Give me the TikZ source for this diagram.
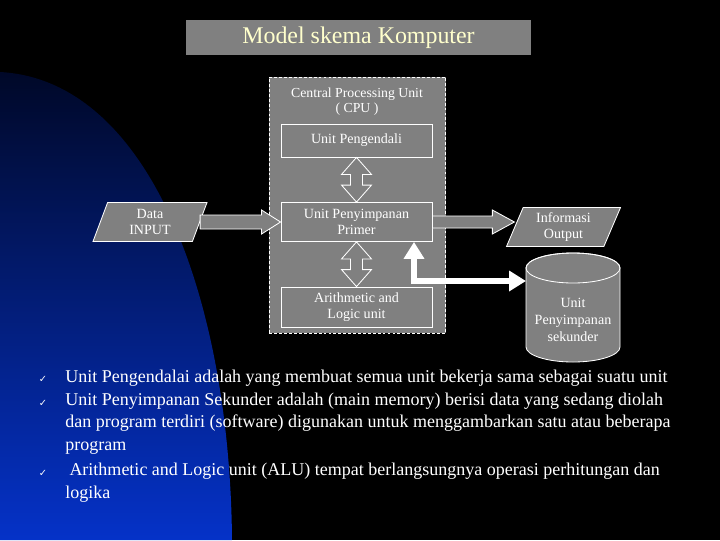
\documentclass[tikz,border=0pt]{standalone}
\usepackage{fontspec}
\setmainfont{Liberation Serif}
\newfontfamily\tickfont{DejaVu Sans}
\usetikzlibrary{shapes.geometric,calc,arrows.meta}

\definecolor{slidegray}{RGB}{128,128,128}
\definecolor{titlecream}{RGB}{255,255,204}
\definecolor{navytop}{RGB}{0,8,40}
\definecolor{bluebot}{RGB}{5,50,200}

\begin{document}
\begin{tikzpicture}[x=0.025cm, y=-0.025cm,
    unitbox/.style={draw=white, line width=0.6pt, fill=slidegray, text=white, minimum width=3.775cm, align=center, inner sep=0pt, font=\fontsize{10}{11.4}\selectfont},
    ioslant/.style={trapezium, trapezium left angle=60, trapezium right angle=120, trapezium stretches body, draw=white, line width=0.6pt, fill=slidegray, text=white, align=center, inner sep=0pt, minimum width=2.85cm, minimum height=0.975cm, font=\fontsize{10}{11.4}\selectfont},
    hollow/.style={draw=white, fill=slidegray, line width=0.6pt},
    bigarrow/.style={white, line width=0.15cm, {Triangle[length=12pt,width=14pt]}-{Triangle[length=12pt,width=14pt]}},
    bullettext/.style={text=white, anchor=base west, align=left, inner sep=0pt, font=\fontsize{12.8}{15.8}\selectfont},
    tick/.style={text=white, anchor=base, inner sep=0pt, font=\tickfont\fontsize{7}{8}\selectfont}]

    % Background
    \fill[black] (0,0) rectangle (720,540);
    \shade[top color=navytop, bottom color=bluebot] (0,72) .. controls (150,80) and (230,300) .. (232,540) -- (0,540) -- cycle;

    % Title
    \node[fill=slidegray, text=titlecream, minimum width=8.625cm, minimum height=0.875cm, font=\fontsize{17}{20}\selectfont] (title) at (358.5,37.5) {Model skema Komputer};

    % CPU
    \node[draw=white, dash pattern=on 2pt off 1.5pt, line width=0.6pt, fill=slidegray, minimum width=4.4cm, minimum height=6.4cm] (cpu) at (357.5,205) {};
    \node[text=white, align=center, font=\fontsize{9.8}{10.8}\selectfont] (cpuname) at (357,101.5) {Central Processing Unit\\( CPU )};

    \node[unitbox, minimum height=0.825cm] (ctl) at (356.5,140.5) {Unit Pengendali};
    \node[unitbox, minimum height=0.975cm] (prim) at (356.5,222) {Unit Penyimpanan\\Primer};
    \node[unitbox, minimum height=1cm] (alu) at (356.5,307) {Arithmetic and\\Logic unit};

    % Input and output
    \node[ioslant] (in) at (150,222) {Data\\INPUT};
    \node[ioslant] (out) at (563.5,227) {Informasi\\Output};
    \coordinate (outtip) at (prim.east -| out.west);

    % Hollow arrows
    \filldraw[hollow] ($(in.east)+(0,-7)$) -- ($(prim.west)+(-19,-7)$) -- ($(prim.west)+(-19,-12)$) -- (prim.west) -- ($(prim.west)+(-19,12)$) -- ($(prim.west)+(-19,7)$) -- ($(in.east)+(0,7)$) -- cycle;
    \filldraw[hollow] ($(prim.east)+(0,-6)$) -- ($(outtip)+(-22,-6)$) -- ($(outtip)+(-22,-12)$) -- (outtip) -- ($(outtip)+(-22,12)$) -- ($(outtip)+(-22,6)$) -- ($(prim.east)+(0,6)$) -- cycle;
    \filldraw[hollow] (ctl.south) -- ($(ctl.south)+(15,17)$) -- ($(ctl.south)+(6,17)$) -- ($(prim.north)+(6,-17)$) -- ($(prim.north)+(15,-17)$) -- (prim.north) -- ($(prim.north)+(-15,-17)$) -- ($(prim.north)+(-6,-17)$) -- ($(ctl.south)+(-6,17)$) -- ($(ctl.south)+(-15,17)$) -- cycle;
    \filldraw[hollow] (prim.south) -- ($(prim.south)+(15,17)$) -- ($(prim.south)+(6,17)$) -- ($(alu.north)+(6,-17)$) -- ($(alu.north)+(15,-17)$) -- (alu.north) -- ($(alu.north)+(-15,-17)$) -- ($(alu.north)+(-6,-17)$) -- ($(prim.south)+(-6,17)$) -- ($(prim.south)+(-15,17)$) -- cycle;

    % Secondary storage
    \filldraw[fill=slidegray, draw=white, line width=0.6pt] (526,268) -- (526,347) arc[start angle=180, end angle=0, x radius=47, y radius=15] -- (620,268) arc[start angle=0, end angle=-180, x radius=47, y radius=15] -- cycle;
    \draw[white, line width=0.6pt] (573,268) ellipse[x radius=47, y radius=15];
    \node[text=white, align=center, font=\fontsize{10}{12}\selectfont] (disk) at (573,320) {Unit\\Penyimpanan\\sekunder};

    \coordinate (bend) at (414,281);
    \coordinate (diskside) at (526,281);
    \draw[bigarrow] (prim.south -| bend) -- (bend) -- (diskside);

    % Notes
    \node[tick] (t1) at (43,382) {✓};
    \node[bullettext] (b1) at (65,382) {Unit Pengendalai adalah yang membuat semua unit bekerja sama sebagai suatu unit};
    \node[tick] (t2) at (43,406) {✓};
    \node[bullettext] (b2) at (65,450) {Unit Penyimpanan Sekunder adalah (main memory) berisi data yang sedang diolah\\dan program terdiri (software) digunakan untuk menggambarkan satu atau beberapa\\program};
    \node[tick] (t3) at (43,476) {✓};
    \node[bullettext] (b3) at (65,498) {\hspace{3pt}Arithmetic and Logic unit (ALU) tempat berlangsungnya operasi perhitungan dan\\logika};
\end{tikzpicture}
\end{document}
